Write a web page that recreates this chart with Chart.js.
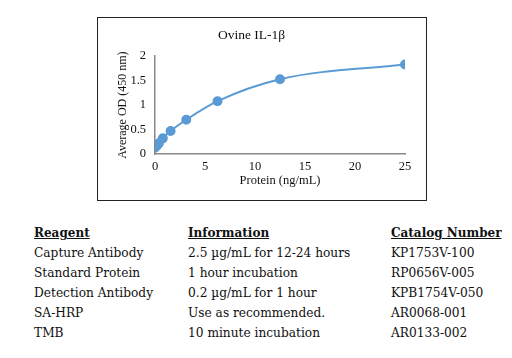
<!DOCTYPE html>
<html>
<head>
<meta charset="utf-8">
<script src="https://cdn.jsdelivr.net/npm/chart.js@4"></script>
<style>
  body { margin: 0; width: 512px; height: 358px; background: #fff; position: relative; font-family: "DejaVu Serif", serif; color: #111; }
  .frame { position: absolute; left: 97px; top: 17px; width: 328px; height: 182px; border: 1px solid #222; }
  .frame canvas { display: block; }
  table { position: absolute; left: 31px; top: 223px; border-collapse: collapse; font-size: 12.2px; }
  td, th { padding: 0 3px; height: 20px; text-align: left; white-space: nowrap; }
  th { font-weight: bold; text-decoration: underline; font-size: 12px; }
  td.c1, th.c1 { width: 148px; }
  td.c2, th.c2 { width: 197px; }
</style>
</head>
<body>
<div class="frame"><canvas id="c" width="328" height="182"></canvas></div>
<table>
  <tr><th class="c1">Reagent</th><th class="c2">Information</th><th>Catalog Number</th></tr>
  <tr><td class="c1">Capture Antibody</td><td class="c2">2.5 µg/mL for 12-24 hours</td><td>KP1753V-100</td></tr>
  <tr><td class="c1">Standard Protein</td><td class="c2">1 hour incubation</td><td>RP0656V-005</td></tr>
  <tr><td class="c1">Detection Antibody</td><td class="c2">0.2 µg/mL for 1 hour</td><td>KPB1754V-050</td></tr>
  <tr><td class="c1">SA-HRP</td><td class="c2">Use as recommended.</td><td>AR0068-001</td></tr>
  <tr><td class="c1">TMB</td><td class="c2">10 minute incubation</td><td>AR0133-002</td></tr>
</table>
<script>
// courbe standard : concentration (ng/mL) -> DO moyenne à 450 nm
const proteine = [0, 0.195, 0.39, 0.78, 1.56, 3.125, 6.25, 12.5, 25];
const doMoyenne = [0.13, 0.17, 0.22, 0.32, 0.47, 0.70, 1.08, 1.53, 1.83];
const titre = "Ovine IL-1β";
const bleu = "#5b9bd5";
const serif = "'Liberation Serif', serif";

const points = proteine.map((x, i) => ({ x, y: doMoyenne[i] }));

new Chart(document.getElementById("c"), {
  type: "scatter",
  data: {
    datasets: [{
      data: points,
      showLine: true,
      borderColor: bleu,
      backgroundColor: bleu,
      borderWidth: 2,
      pointRadius: 4,
      pointHoverRadius: 4,
      cubicInterpolationMode: "monotone",
    }],
  },
  options: {
    responsive: false,
    animation: false,
    layout: { padding: { left: 0, right: 21, top: 0, bottom: 0 } },
    plugins: {
      legend: { display: false },
      tooltip: { enabled: false },
      title: {
        display: true,
        text: titre,
        color: "#111",
        font: { family: serif, size: 13.5, weight: "normal" },
        padding: { top: 9, bottom: 13 },
      },
    },
    scales: {
      x: {
        type: "linear",
        min: 0, max: 25,
        ticks: { stepSize: 5, color: "#111", padding: 5, font: { family: serif, size: 12.5 } },
        grid: { display: false, drawTicks: false },
        border: { color: "#888", width: 1.5 },
        title: { display: true, text: "Protein (ng/mL)", color: "#111", font: { family: serif, size: 12.5 }, padding: { top: 0, bottom: 12 } },
        afterFit: (s) => { s.height = 46; },
      },
      y: {
        min: 0, max: 2,
        ticks: { stepSize: 0.5, color: "#111", padding: 9, font: { family: serif, size: 12.5 }, callback: (v) => String(v) },
        grid: { display: false, drawTicks: false },
        border: { color: "#888", width: 1.5 },
        title: { display: true, text: "Average OD (450 nm)", color: "#111", font: { family: serif, size: 12 }, padding: { top: 18, bottom: 0 } },
        afterFit: (s) => { s.width = 57; },
      },
    },
  },
});
</script>
</body>
</html>
